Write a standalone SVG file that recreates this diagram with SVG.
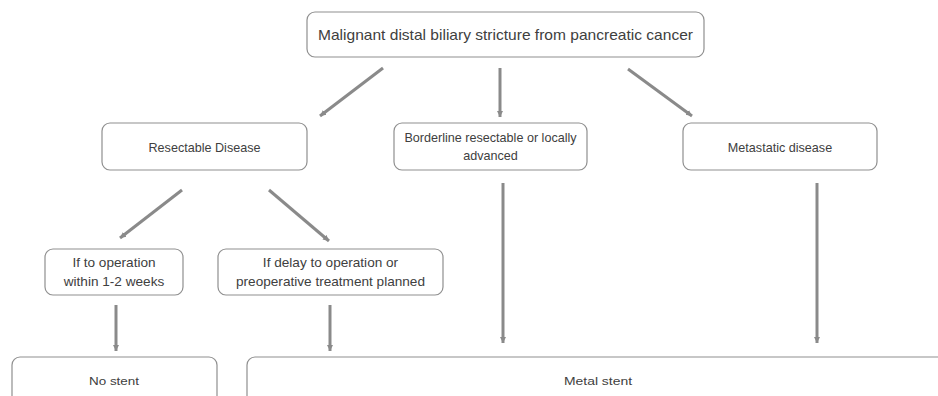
<svg xmlns="http://www.w3.org/2000/svg" width="938" height="396" viewBox="0 0 938 396">
<style>
.box{fill:#fff;stroke:#8f8f8f;stroke-width:1.2}
.t{font-family:"Liberation Sans",Arial,sans-serif;fill:#404040;text-anchor:middle}
.m{font-size:12.6px}
.s{font-size:13.6px}
.c{stroke:#8a8a8a;stroke-width:3;fill:none;marker-end:url(#ah)}
</style>
<defs>
<marker id="ah" markerUnits="userSpaceOnUse" markerWidth="8" markerHeight="8" refX="6" refY="4" orient="auto">
<path d="M0,1 L6,4 L0,7 Z" fill="#8a8a8a"/>
</marker>
</defs>
<rect width="938" height="396" fill="#fff"/>
<g id="connectors">
<line class="c" x1="383" y1="68" x2="320" y2="116"/>
<line class="c" x1="500" y1="68" x2="500" y2="117"/>
<line class="c" x1="628" y1="69" x2="692" y2="116"/>
<line class="c" x1="182" y1="190" x2="120" y2="238"/>
<line class="c" x1="269" y1="190" x2="329" y2="241"/>
<line class="c" x1="503" y1="183" x2="503" y2="343"/>
<line class="c" x1="817" y1="183" x2="817" y2="343"/>
<line class="c" x1="116" y1="305" x2="116" y2="351"/>
<line class="c" x1="330" y1="305" x2="330" y2="351"/>
</g>
<g id="n-top">
<rect class="box" x="307" y="12" width="397" height="45" rx="8"/>
<text class="t" x="505.5" y="40" font-size="15" textLength="375" lengthAdjust="spacingAndGlyphs">Malignant distal biliary stricture from pancreatic cancer</text>
</g>
<g id="n-resectable">
<rect class="box" x="102" y="123" width="205" height="47" rx="8"/>
<text class="t m" x="204.5" y="152">Resectable Disease</text>
</g>
<g id="n-borderline">
<rect class="box" x="394" y="123" width="193" height="47" rx="8"/>
<text class="t m" x="490.5" y="142">Borderline resectable or locally</text>
<text class="t m" x="490.5" y="160">advanced</text>
</g>
<g id="n-metastatic">
<rect class="box" x="683" y="123" width="194" height="47" rx="8"/>
<text class="t m" x="780" y="152">Metastatic disease</text>
</g>
<g id="n-if-op">
<rect class="box" x="45" y="249" width="138" height="46" rx="8"/>
<text class="t s" x="114" y="267">If to operation</text>
<text class="t s" x="114" y="286">within 1-2 weeks</text>
</g>
<g id="n-if-delay">
<rect class="box" x="218" y="249" width="225" height="46" rx="8"/>
<text class="t s" x="330.5" y="267">If delay to operation or</text>
<text class="t s" x="330.5" y="286">preoperative treatment planned</text>
</g>
<g id="n-no-stent">
<rect class="box" x="12" y="357" width="205" height="60" rx="8"/>
<text class="t" x="114" y="385" font-size="11" textLength="50" lengthAdjust="spacingAndGlyphs">No stent</text>
</g>
<g id="n-metal-stent">
<rect class="box" x="247" y="357" width="720" height="60" rx="8"/>
<text class="t" x="598" y="385" font-size="11" textLength="68" lengthAdjust="spacingAndGlyphs">Metal stent</text>
</g>
</svg>
